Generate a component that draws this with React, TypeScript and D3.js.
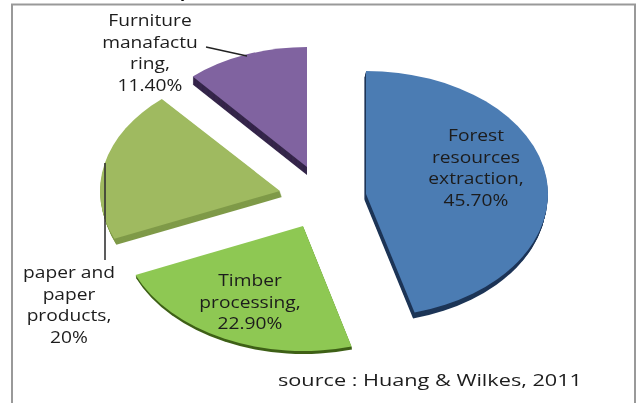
import React from "react";
import * as d3 from "d3";

const categories = ["Forest resources extraction", "Timber processing", "paper and paper products", "Furniture manafacturing"];
const shares = [45.7, 22.9, 20, 11.4];
const labelLines = [
  ["Forest", "resources", "extraction,", "45.70%"],
  ["Timber", "processing,", "22.90%"],
  ["paper and", "paper", "products,", "20%"],
  ["Furniture", "manafactu", "ring,", "11.40%"],
];
const sourceNote = "source : Huang & Wilkes, 2011";

const W = 637, H = 403, R = 100;
const sliceStyle = [
  { cx: 366, cy: 194, rx: 182, ry: 123, dx: -1.5, dy: 6, top: "#4b7bb3", side: "#1d3557" },
  { cx: 303, cy: 226, rx: 182, ry: 125, dx: 0.5, dy: 3, top: "#8ec853", side: "#3f6118" },
  { cx: 280, cy: 191, rx: 180, ry: 122, dx: 2, dy: 6, top: "#9fba60", side: "#7f9a48" },
  { cx: 307, cy: 167, rx: 174, ry: 120, dx: 0, dy: 8, top: "#8064a0", side: "#35264a" },
];
const labelStyle = [
  { x: 476, y: 141 },
  { x: 250, y: 286 },
  { x: 69, y: 278 },
  { x: 150, y: 26 },
];
const LINE_H = 21.7;
const STRETCH = 1.2;

const pie = d3.pie<number>().sort(null).startAngle(0).endAngle(2 * Math.PI);
const arc = d3.arc<d3.PieArcDatum<number>>().innerRadius(0).outerRadius(R);
const arcs = pie(shares);
const font = "'Open Sans', sans-serif";

export default function App() {
  return (
    <svg width={W} height={H} viewBox={`0 0 ${W} ${H}`} style={{ position: "absolute", left: 0, top: 0, display: "block", background: "#fff" }}>
      <defs>
        <filter id="soft" x="-5%" y="-5%" width="110%" height="110%">
          <feGaussianBlur stdDeviation="0.55" />
        </filter>
      </defs>
      <g filter="url(#soft)">
        <path d="M12 403V4.5H635V403" fill="none" stroke="#999" strokeWidth={2} />
        <text x={185} y={-3} fontFamily="'Liberation Serif', serif" fontWeight="bold" fontSize={17} textAnchor="middle" fill="#000">y</text>
        {arcs.map((a, i) => {
          const s = sliceStyle[i];
          const scale = `scale(${s.rx / R},${s.ry / R})`;
          const n = Math.ceil(s.dy);
          return (
            <g key={categories[i]}>
              {d3.range(n, 0, -1).map((d) => (
                <path key={d} d={arc(a) ?? ""} fill={s.side}
                  transform={`translate(${s.cx + (s.dx * d) / n},${s.cy + (s.dy * d) / n}) ${scale}`} />
              ))}
              <path d={arc(a) ?? ""} fill={s.top} transform={`translate(${s.cx},${s.cy}) ${scale}`} />
            </g>
          );
        })}
        <path d="M206 47L247 56" fill="none" stroke="#222" strokeWidth={1.3} />
        <path d="M105 163V260" fill="none" stroke="#333" strokeWidth={1.6} />
        {labelLines.map((lines, i) => (
          <g key={i} transform={`translate(${labelStyle[i].x},0) scale(${STRETCH},1)`}>
            <text textAnchor="middle" fontFamily={font} fontSize={16} fill="#1c1c1c">
              {lines.map((t, j) => (
                <tspan key={j} x={0} y={labelStyle[i].y + j * LINE_H}>{t}</tspan>
              ))}
            </text>
          </g>
        ))}
        <text x={278} y={385.5} fontFamily={font} fontSize={16} fill="#1c1c1c" textLength={304} lengthAdjust="spacingAndGlyphs">{sourceNote}</text>
      </g>
    </svg>
  );
}
